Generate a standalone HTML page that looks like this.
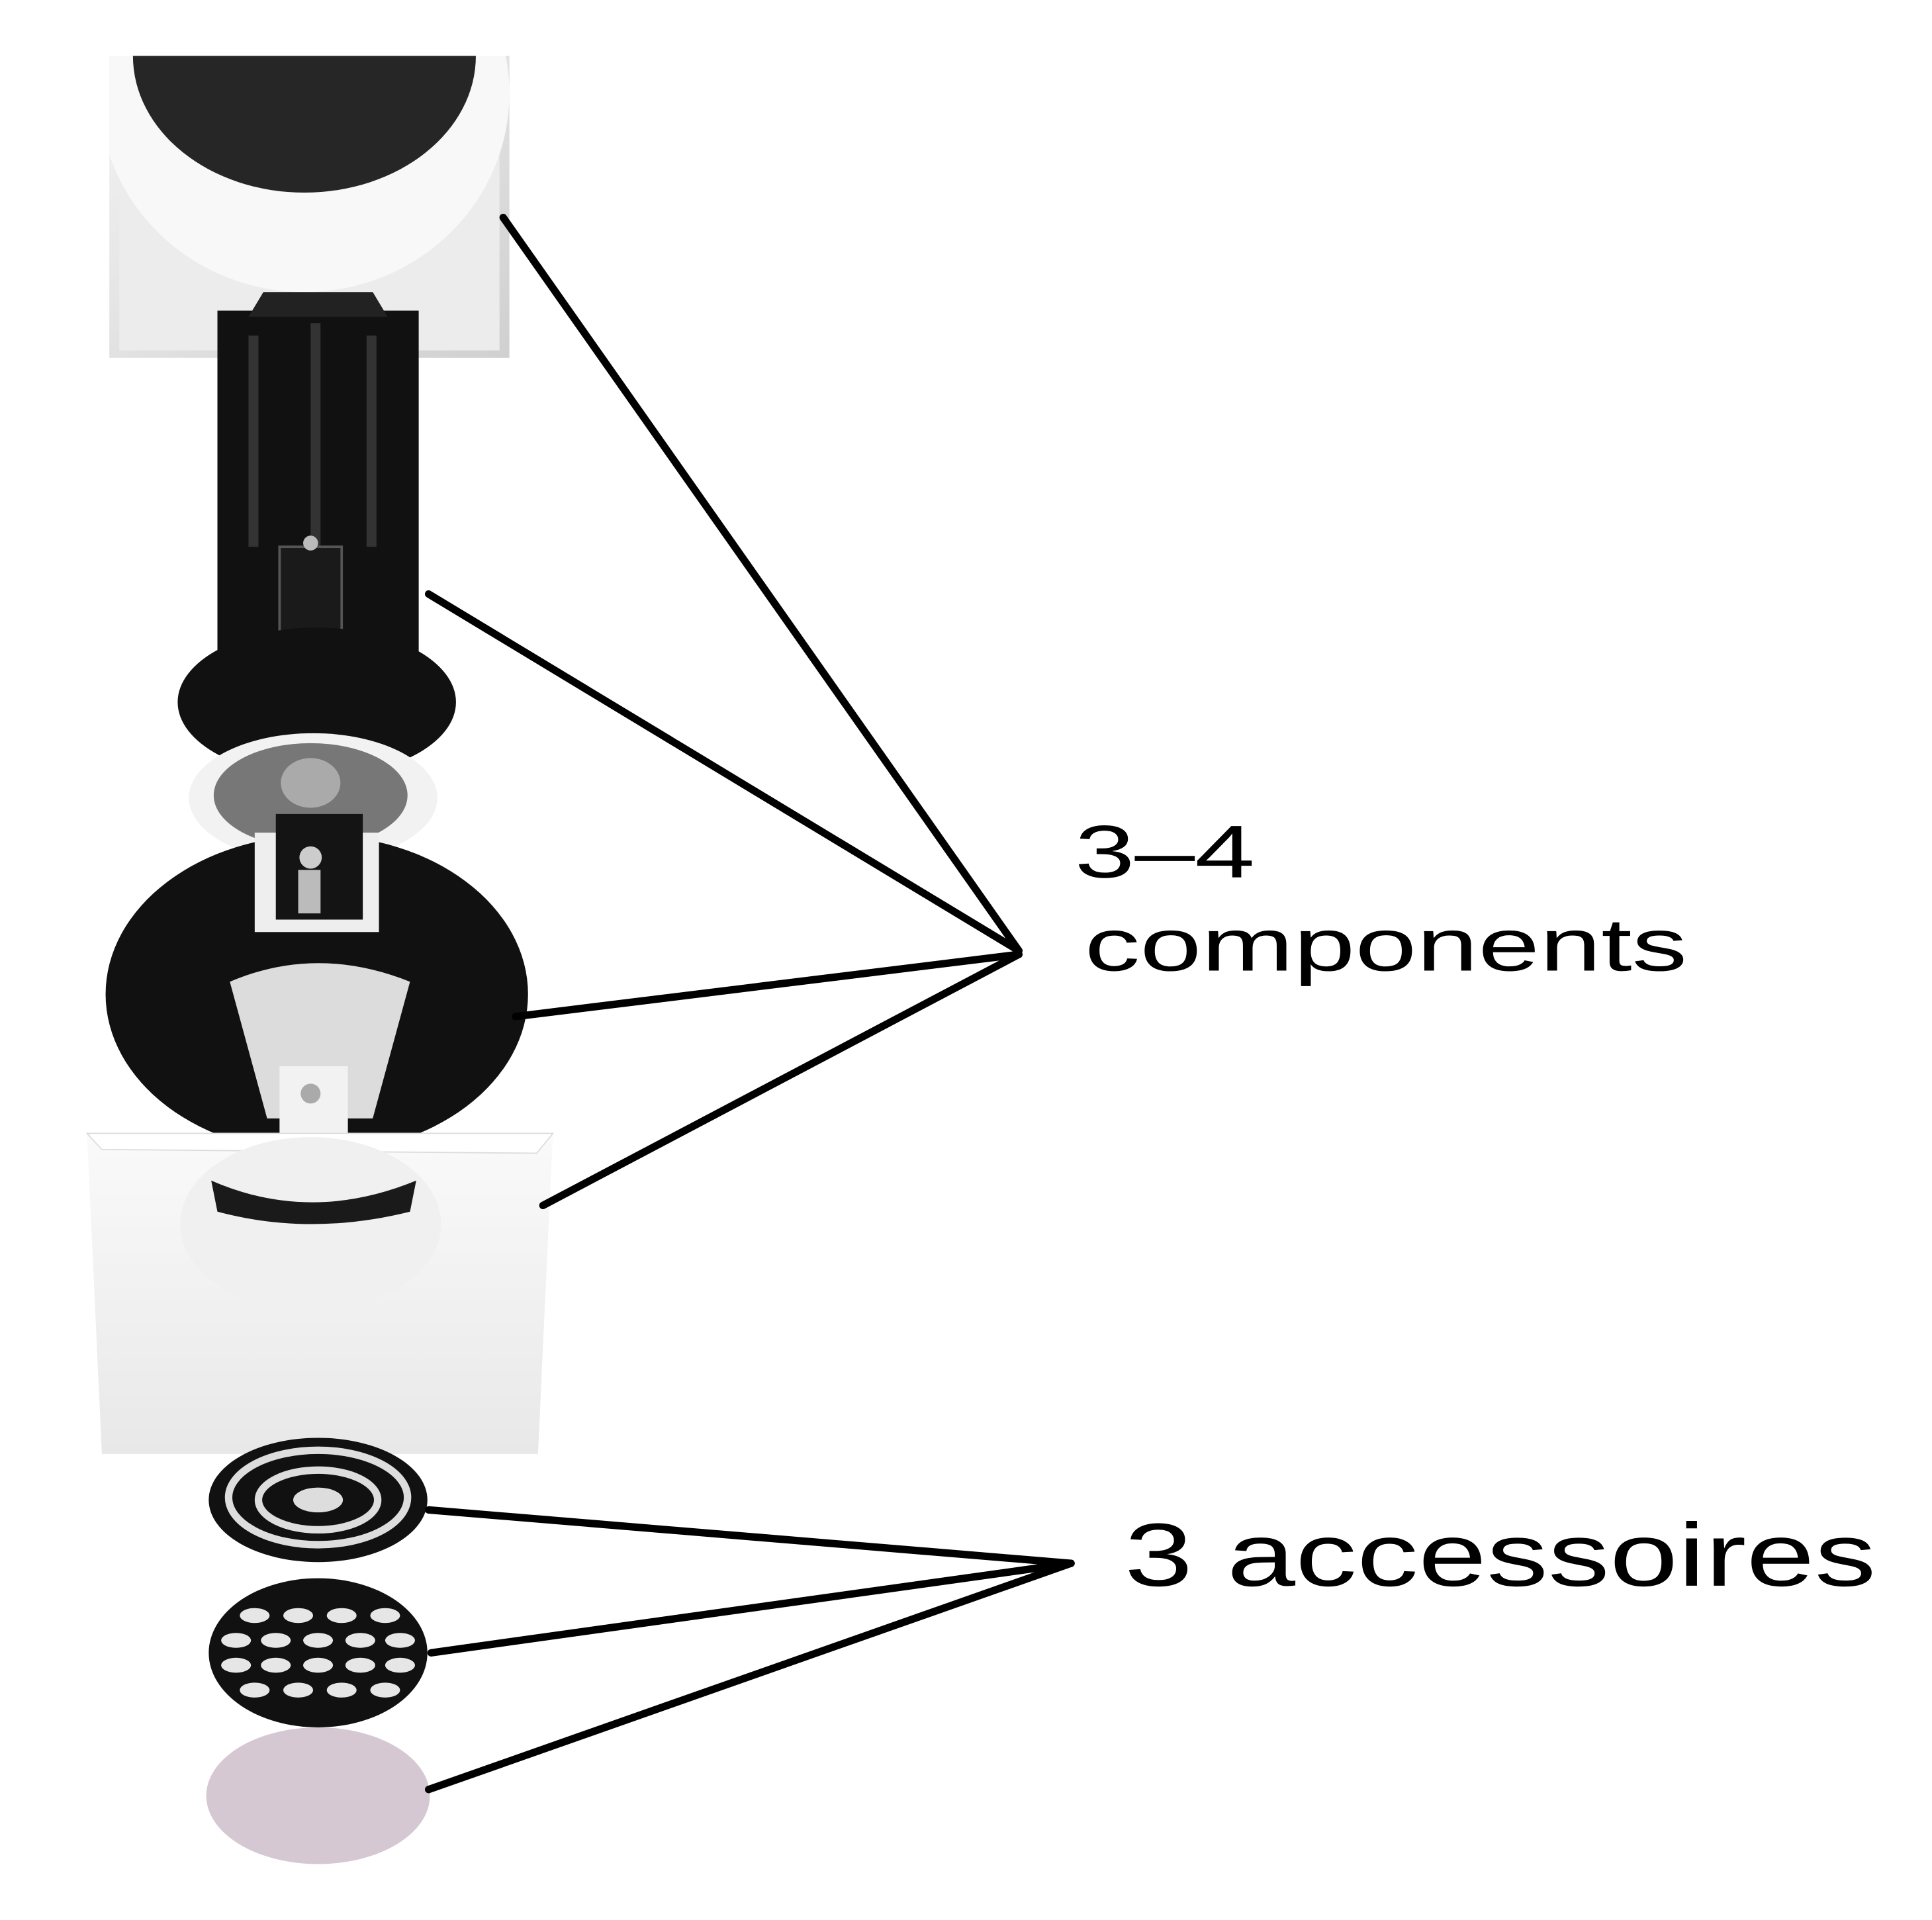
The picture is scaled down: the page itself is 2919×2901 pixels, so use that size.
<!DOCTYPE html>
<html><head><meta charset="utf-8"><style>
html,body{margin:0;padding:0;background:#fff;}
svg{display:block;}
text{font-family:"Liberation Sans",sans-serif;fill:#000;}
</style></head><body>
<svg width="2919" height="2901" viewBox="0 0 1555 1545" preserveAspectRatio="none" xmlns="http://www.w3.org/2000/svg">
<defs>
<linearGradient id="tg" x1="0" y1="0" x2="1" y2="1"><stop offset="0" stop-color="#f4f4f4"/><stop offset="1" stop-color="#d0d0d0"/></linearGradient>
<linearGradient id="bg" x1="0" y1="0" x2="0" y2="1"><stop offset="0" stop-color="#fafafa"/><stop offset="1" stop-color="#e8e8e8"/></linearGradient>
<clipPath id="topclip"><rect x="88" y="45" width="322" height="243"/></clipPath>
</defs>
<rect width="1555" height="1545" fill="#fff"/>
<!-- top trim -->
<rect x="88" y="45" width="322" height="243" fill="url(#tg)"/>
<rect x="96" y="48" width="306" height="234" fill="#ececec"/>
<g clip-path="url(#topclip)">
<ellipse cx="245" cy="75" rx="165" ry="160" fill="#f8f8f8"/>
<ellipse cx="245" cy="45" rx="138" ry="110" fill="#262626"/>
</g>
<!-- cylinder body -->
<rect x="175" y="250" width="162" height="310" fill="#111"/>
<polygon points="212,235 300,235 312,255 200,255" fill="#222"/>
<rect x="200" y="270" width="8" height="170" fill="#333"/>
<rect x="250" y="260" width="8" height="190" fill="#333"/>
<rect x="295" y="270" width="8" height="170" fill="#333"/>
<rect x="225" y="440" width="50" height="125" fill="#1a1a1a" stroke="#555" stroke-width="2"/>
<circle cx="250" cy="437" r="6" fill="#bbb"/>
<ellipse cx="255" cy="565" rx="112" ry="60" fill="#111"/>
<!-- LED -->
<ellipse cx="252" cy="642" rx="100" ry="52" fill="#f2f2f2"/>
<ellipse cx="250" cy="640" rx="78" ry="42" fill="#777"/>
<ellipse cx="250" cy="630" rx="24" ry="20" fill="#aaa"/>
<!-- ring -->
<ellipse cx="255" cy="800" rx="170" ry="128" fill="#111"/>
<path d="M185 790 Q255 760 330 790 L300 900 L215 900 Z" fill="#dcdcdc"/>
<rect x="205" y="670" width="100" height="80" fill="#eee"/>
<rect x="222" y="655" width="70" height="85" fill="#141414"/>
<circle cx="250" cy="690" r="9" fill="#ccc"/>
<rect x="240" y="700" width="18" height="35" fill="#bbb"/>
<rect x="225" y="858" width="55" height="55" fill="#f2f2f2"/>
<circle cx="250" cy="880" r="8" fill="#aaa"/>
<!-- bottom trim -->
<polygon points="70,912 445,912 433,1170 82,1170" fill="url(#bg)"/>
<polygon points="70,912 445,912 432,928 82,925" fill="#fff" stroke="#ddd"/>
<ellipse cx="250" cy="985" rx="105" ry="70" fill="#f0f0f0"/>
<path d="M170 950 Q250 985 335 950 L330 975 Q250 995 175 975 Z" fill="#1a1a1a"/>
<!-- accessories -->
<ellipse cx="256" cy="1207" rx="88" ry="50" fill="#111"/>
<ellipse cx="256" cy="1205" rx="72" ry="38" fill="none" stroke="#ddd" stroke-width="6"/>
<ellipse cx="256" cy="1207" rx="48" ry="24" fill="none" stroke="#ddd" stroke-width="6"/>
<ellipse cx="256" cy="1207" rx="20" ry="10" fill="#ddd"/>
<ellipse cx="256" cy="1330" rx="88" ry="60" fill="#111"/>
<g fill="#e6e6e6">
<ellipse cx="205" cy="1300" rx="12" ry="6"/><ellipse cx="240" cy="1300" rx="12" ry="6"/><ellipse cx="275" cy="1300" rx="12" ry="6"/><ellipse cx="310" cy="1300" rx="12" ry="6"/>
<ellipse cx="190" cy="1320" rx="12" ry="6"/><ellipse cx="222" cy="1320" rx="12" ry="6"/><ellipse cx="256" cy="1320" rx="12" ry="6"/><ellipse cx="290" cy="1320" rx="12" ry="6"/><ellipse cx="322" cy="1320" rx="12" ry="6"/>
<ellipse cx="190" cy="1340" rx="12" ry="6"/><ellipse cx="222" cy="1340" rx="12" ry="6"/><ellipse cx="256" cy="1340" rx="12" ry="6"/><ellipse cx="290" cy="1340" rx="12" ry="6"/><ellipse cx="322" cy="1340" rx="12" ry="6"/>
<ellipse cx="205" cy="1360" rx="12" ry="6"/><ellipse cx="240" cy="1360" rx="12" ry="6"/><ellipse cx="275" cy="1360" rx="12" ry="6"/><ellipse cx="310" cy="1360" rx="12" ry="6"/>
</g>
<ellipse cx="256" cy="1445" rx="90" ry="55" fill="#d6c8d3"/>
<!-- leader lines -->
<g stroke="#000" stroke-width="6" fill="none" stroke-linecap="round">
<line x1="405" y1="175" x2="820" y2="765"/>
<line x1="345" y1="478" x2="820" y2="765"/>
<line x1="415" y1="818" x2="820" y2="768"/>
<line x1="437" y1="970" x2="820" y2="768"/>
<line x1="345" y1="1215" x2="862" y2="1258"/>
<line x1="347" y1="1330" x2="862" y2="1258"/>
<line x1="345" y1="1440" x2="862" y2="1258"/>
</g>
<text x="865" y="706" font-size="60" textLength="145" lengthAdjust="spacingAndGlyphs">3–4</text>
<text x="873" y="781" font-size="60" textLength="485" lengthAdjust="spacingAndGlyphs">components</text>
<text x="905" y="1276" font-size="72" textLength="605" lengthAdjust="spacingAndGlyphs">3 accessoires</text>
</svg>
</body></html>
